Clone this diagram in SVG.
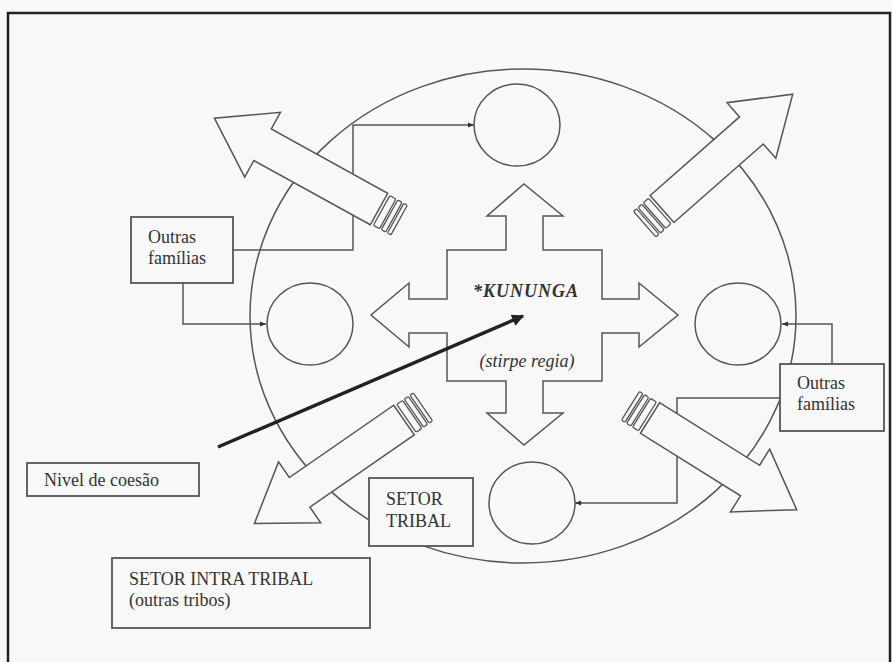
<svg xmlns="http://www.w3.org/2000/svg" width="892" height="662" viewBox="0 0 892 662">
<defs>
<style>
.sh{fill:#f8f8f8;stroke:#555;stroke-width:1.5;stroke-linejoin:miter}
.ln{fill:none;stroke:#555;stroke-width:1.5}
.bx{fill:#f8f8f8;stroke:#555;stroke-width:1.8}
.t{font-family:'Liberation Serif','Times New Roman',serif;font-size:18px;fill:#333}
.st{fill:#f8f8f8;stroke:#555;stroke-width:1.3}
</style>
<marker id="ah" viewBox="0 0 10 10" refX="10" refY="5" markerWidth="6" markerHeight="6" orient="auto" markerUnits="userSpaceOnUse">
<path d="M0,1 L10,5 L0,9 Z" fill="#333"/>
</marker>
<marker id="ahb" viewBox="0 0 10 10" refX="9" refY="5" markerWidth="14" markerHeight="12" orient="auto" markerUnits="userSpaceOnUse">
<path d="M0,0 L10,5 L0,10 Z" fill="#222"/>
</marker>
<g id="stripes">
<rect class="st" x="-10" y="-17" width="7" height="34" rx="1.5"/>
<rect class="st" x="-17" y="-17" width="5" height="34" rx="1.5"/>
<rect class="st" x="-23" y="-17" width="4" height="34" rx="1.5"/>
</g>
</defs>
<rect x="0" y="0" width="892" height="662" fill="#f8f8f8"/>
<path d="M8,662 L8,13 L890,13 L890,662" fill="none" stroke="#222" stroke-width="2.5"/>

<g id="sector-ellipse">
<ellipse class="ln" cx="523" cy="316" rx="273" ry="247"/>
</g>

<g id="connectors">
<path class="ln" d="M233,250 L353,250 L353,125 L474,125" marker-end="url(#ah)"/>
<path class="ln" d="M183,283 L183,324 L266,324" marker-end="url(#ah)"/>
<path class="ln" d="M832,364 L832,324 L782,324" marker-end="url(#ah)"/>
<path class="ln" d="M780,398 L677,398 L677,503 L575,503" marker-end="url(#ah)"/>
</g>

<g id="kununga-cross">
<path class="sh" d="M524,184 L563,216 L543,216 L543,250 L602,250 L602,299 L639,299 L639,283 L678,315 L639,347 L639,333 L602,333 L602,381 L543,381 L543,413 L563,413 L524,445 L487,413 L506,413 L506,381 L447,381 L447,333 L409,333 L409,347 L371,315 L409,283 L409,299 L447,299 L447,250 L506,250 L506,216 L487,216 Z"/>
<text class="t" x="526" y="297" text-anchor="middle" font-family="Liberation Serif, serif" font-size="22" font-weight="bold" font-style="italic" letter-spacing="1" fill="#222">*KUNUNGA</text>
<text class="t" x="527" y="367" text-anchor="middle" font-family="Liberation Serif, serif" font-size="16" font-style="italic" fill="#555">(stirpe regia)</text>
</g>

<g id="circle-top"><ellipse class="sh" cx="517" cy="125" rx="43" ry="41"/></g>
<g id="circle-left"><ellipse class="sh" cx="310" cy="324" rx="43" ry="41"/></g>
<g id="circle-right"><ellipse class="sh" cx="738" cy="324" rx="43" ry="41"/></g>
<g id="circle-bottom"><ellipse class="sh" cx="532" cy="503" rx="43" ry="41"/></g>

<g id="arrow-top-left" transform="translate(379,209) rotate(208.9)">
<path class="sh" d="M0,-18 L133,-18 L133,-37 L188,0 L133,37 L133,18 L0,18 Z"/>
<use href="#stripes"/>
</g>
<g id="arrow-top-right" transform="translate(662,209) rotate(-41.3)">
<path class="sh" d="M0,-18 L119,-18 L119,-37 L174,0 L119,37 L119,18 L0,18 Z"/>
<use href="#stripes"/>
</g>
<g id="arrow-bottom-left" transform="translate(404,420) rotate(145.3)">
<path class="sh" d="M0,-18 L127,-18 L127,-37 L182,0 L127,37 L127,18 L0,18 Z"/>
<use href="#stripes"/>
</g>
<g id="arrow-bottom-right" transform="translate(650,418) rotate(32)">
<path class="sh" d="M0,-18 L118,-18 L118,-37 L173,0 L118,37 L118,18 L0,18 Z"/>
<use href="#stripes"/>
</g>

<g id="box-outras-left">
<rect class="bx" x="131" y="217" width="102" height="66"/>
<text class="t" x="148" y="243" font-family="Liberation Serif, serif">Outras</text>
<text class="t" x="148" y="264" font-family="Liberation Serif, serif">famílias</text>
</g>
<g id="box-outras-right">
<rect class="bx" x="780" y="364" width="104" height="67"/>
<text class="t" x="797" y="389" font-family="Liberation Serif, serif">Outras</text>
<text class="t" x="797" y="410" font-family="Liberation Serif, serif">famílias</text>
</g>
<g id="box-nivel">
<rect class="bx" x="27" y="463" width="172" height="33"/>
<text class="t" x="44" y="486" font-family="Liberation Serif, serif">Nivel de coesão</text>
</g>
<g id="box-setor-tribal">
<rect class="bx" x="369" y="478" width="104" height="68"/>
<text class="t" x="386" y="505" font-family="Liberation Serif, serif">SETOR</text>
<text class="t" x="386" y="527" font-family="Liberation Serif, serif">TRIBAL</text>
</g>
<g id="box-setor-intra">
<rect class="bx" x="112" y="558" width="258" height="70"/>
<text class="t" x="129" y="585" font-family="Liberation Serif, serif">SETOR INTRA TRIBAL</text>
<text class="t" x="129" y="606" font-family="Liberation Serif, serif">(outras tribos)</text>
</g>

<g id="cohesion-arrow">
<line x1="218" y1="447" x2="523" y2="316" stroke="#222" stroke-width="3.5" marker-end="url(#ahb)"/>
</g>
</svg>
